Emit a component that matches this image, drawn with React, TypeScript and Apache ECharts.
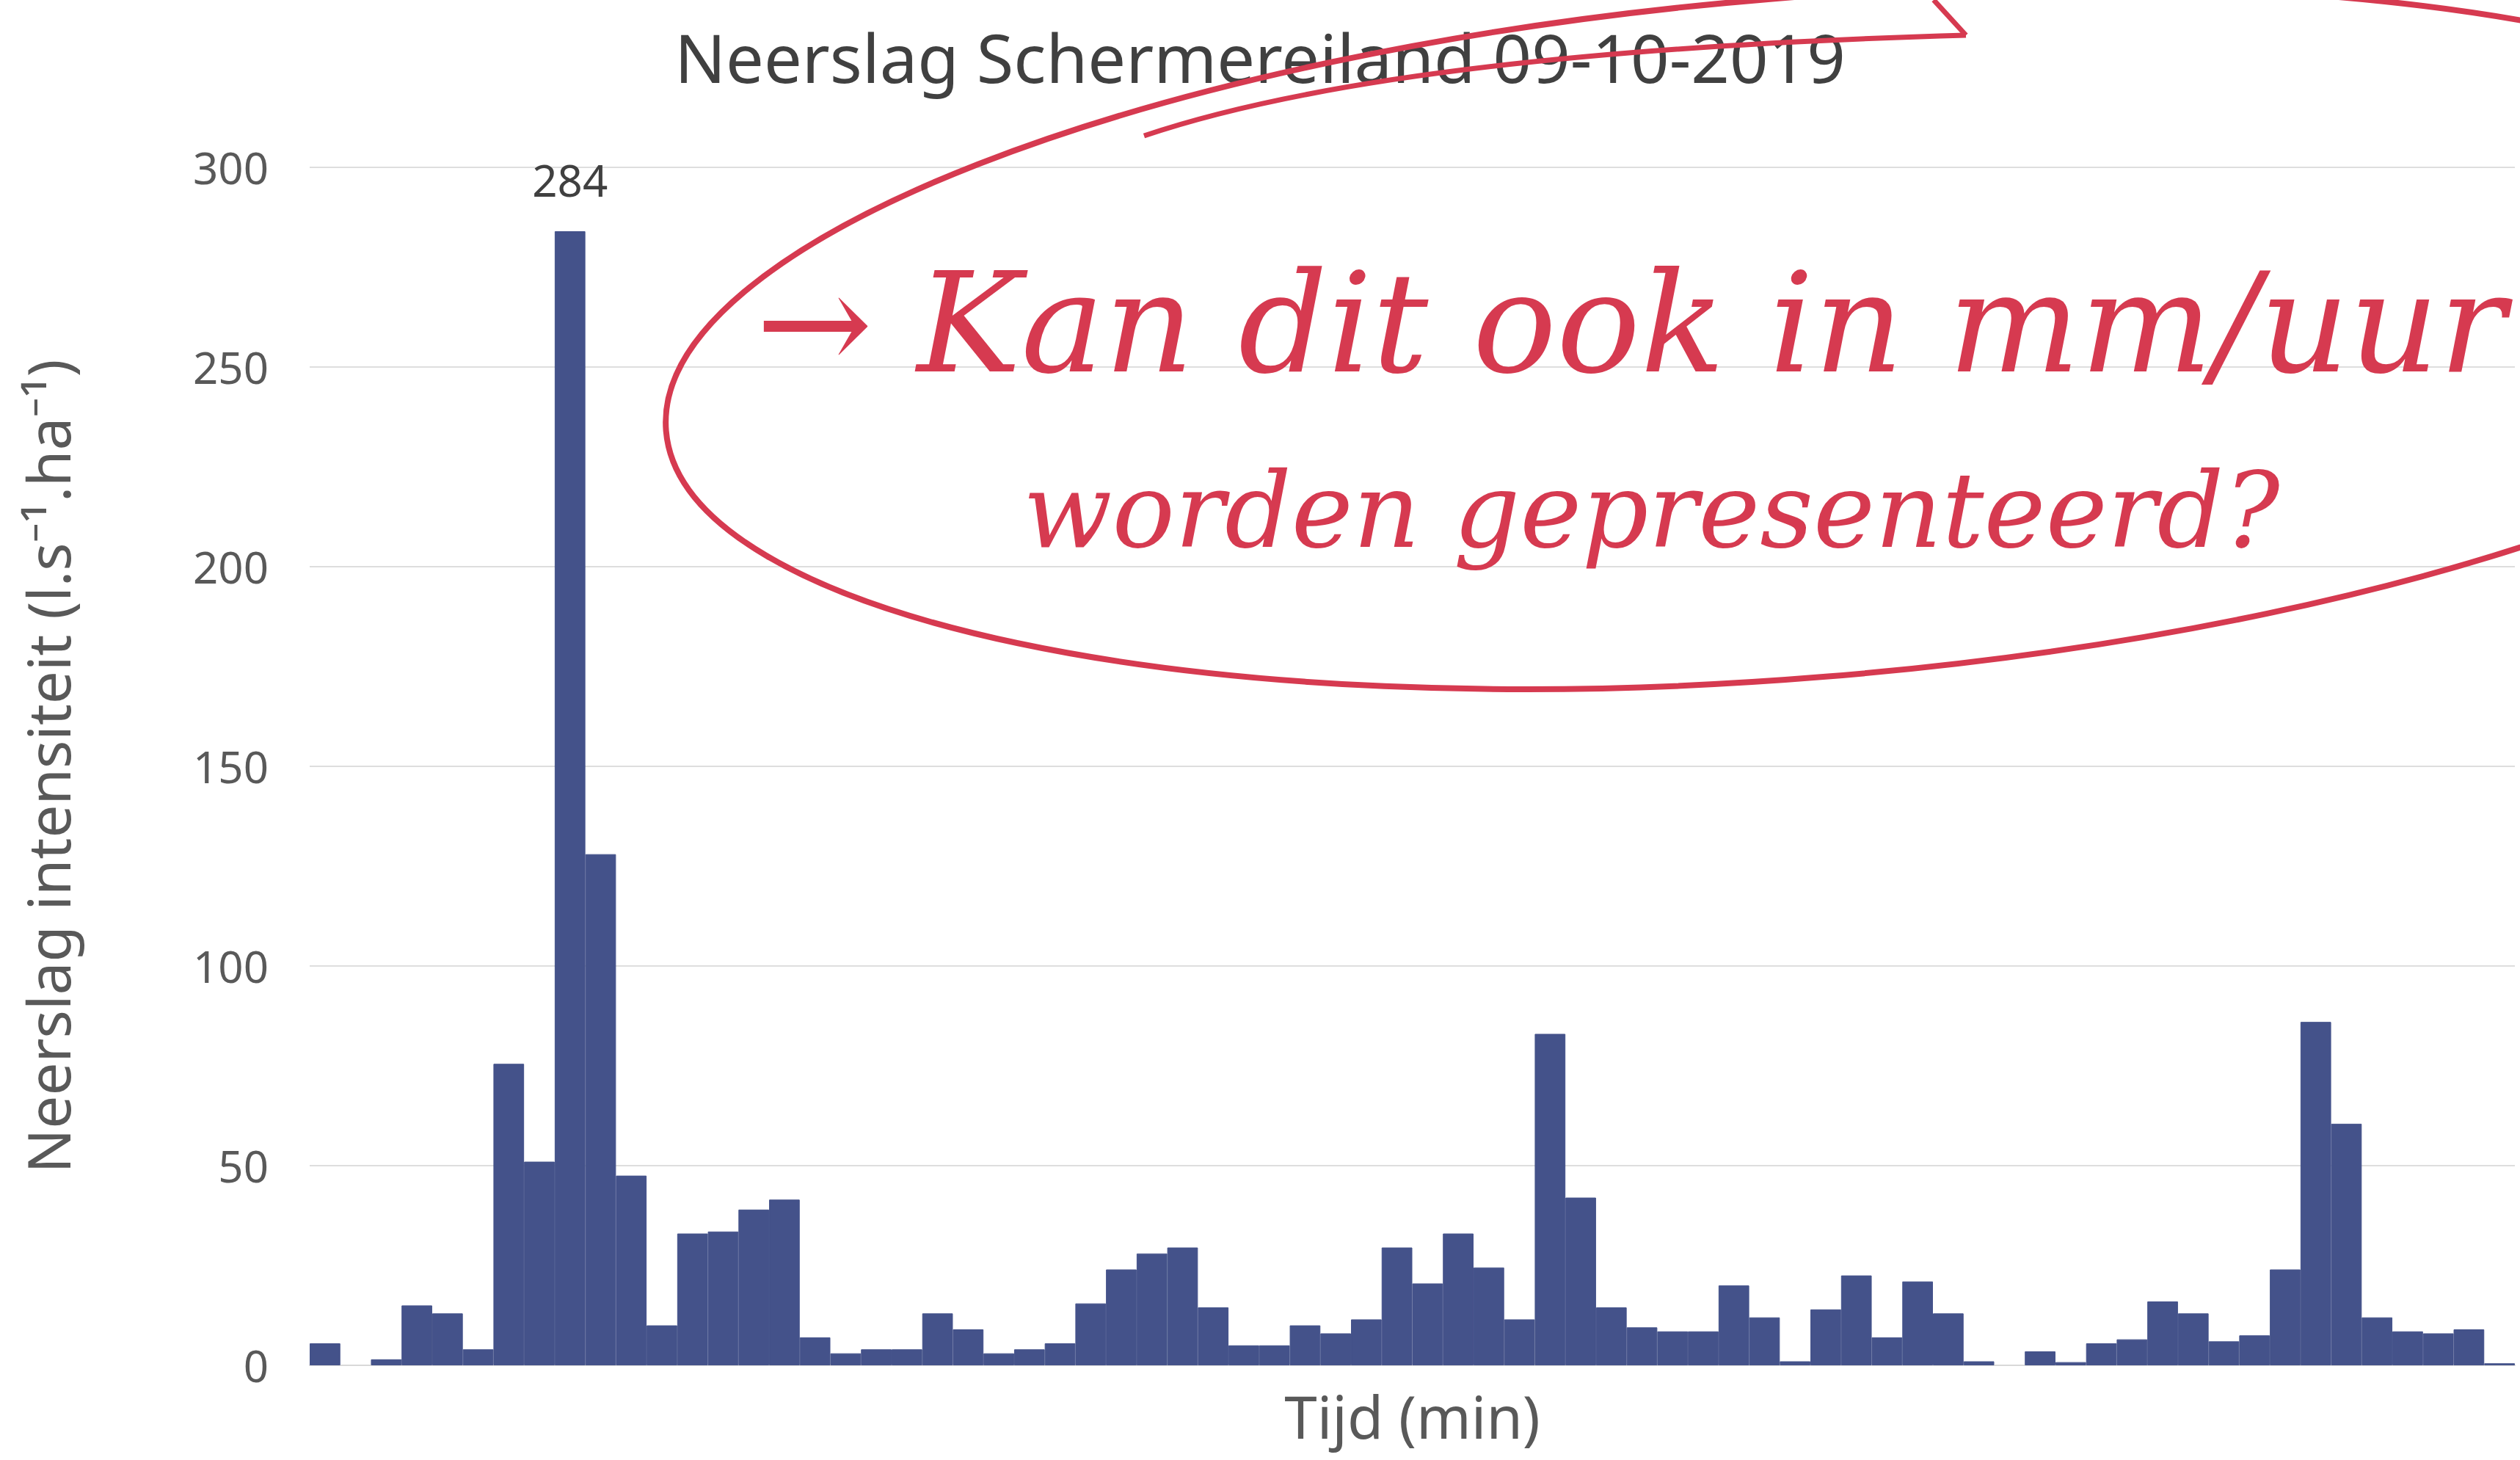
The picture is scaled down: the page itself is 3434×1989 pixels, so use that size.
import React, { useEffect, useRef } from "react";
import * as echarts from "echarts";

const TITLE = "Neerslag Schermereiland 09-10-2019";
const Y_NAME = "Neerslag intensiteit (l.s⁻¹.ha⁻¹)";
const X_NAME = "Tijd (min)";
const Y_TICKS = [0, 50, 100, 150, 200, 250, 300];

// intensity per time step (l/s/ha)
const intensity = [
  5.5, 0, 1.5, 15, 13, 4, 75.5, 51, 284, 128,
  47.5, 10, 33, 33.5, 39, 41.5, 7, 3, 4, 4,
  13, 9, 3, 4, 5.5, 15.5, 24, 28, 29.5, 14.5,
  5, 5, 10, 8, 11.5, 29.5, 20.5, 33, 24.5, 11.5,
  83, 42, 14.5, 9.5, 8.5, 8.5, 20, 12, 1, 14,
  22.5, 7, 21, 13, 1, 0, 3.5, 0.8, 5.5, 6.5,
  16, 13, 6, 7.5, 24, 86, 60.5, 12, 8.5, 8,
  9, 0.5,
];
const categories = intensity.map((_, i) => String(i + 1));

const NOTE_LINE_1 = "→ Kan dit ook in mm/uur";
const NOTE_LINE_2 = "worden gepresenteerd?";

const RED = "#d63a50";
const BAR = "#44528a";

export default function App() {
  const ref = useRef<HTMLDivElement>(null);
  useEffect(() => {
    if (!ref.current) return;
    const chart = echarts.init(ref.current, null, { renderer: "svg" });
    const maxVal = Math.max(...intensity);
    chart.setOption({
      animation: false,
      backgroundColor: "#ffffff",
      title: {
        text: TITLE,
        left: "center",
        top: 26,
        textStyle: {
          fontFamily: "Noto Sans",
          fontSize: 92,
          fontWeight: "normal",
          color: "#404040",
        },
      },
      grid: { left: 422, right: 7, top: 228, bottom: 129, containLabel: false },
      xAxis: {
        type: "category",
        data: categories,
        name: X_NAME,
        nameLocation: "middle",
        nameGap: 28,
        nameTextStyle: { fontFamily: "Noto Sans", fontSize: 80, color: "#595959" },
        axisLine: { show: true, lineStyle: { color: "#d9d9d9", width: 2 } },
        axisTick: { show: false },
        axisLabel: { show: false },
      },
      yAxis: {
        type: "value",
        min: 0,
        max: Y_TICKS[Y_TICKS.length - 1],
        interval: 50,
        name: Y_NAME,
        nameLocation: "middle",
        nameGap: 318,
        nameTextStyle: { fontFamily: "Noto Sans", fontSize: 80, color: "#595959" },
        axisLine: { show: false },
        axisTick: { show: false },
        axisLabel: {
          margin: 56,
          fontFamily: "Noto Sans",
          fontSize: 60,
          color: "#595959",
        },
        splitLine: { lineStyle: { color: "#dedede", width: 2 } },
      },
      series: [
        {
          type: "bar",
          data: intensity.map((v) => {
            if (v === maxVal) {
              return {
                value: v,
                label: {
                  show: true,
                  position: "top",
                  distance: 40,
                  fontFamily: "Noto Sans",
                  fontSize: 60,
                  color: "#404040",
                },
              };
            }
            if (v === 0) {
              return { value: v, itemStyle: { borderWidth: 0 } };
            }
            return v;
          }),
          barCategoryGap: "0%",
          itemStyle: { color: BAR, borderColor: BAR, borderWidth: 1 },
        },
      ],
      graphic: [
        {
          type: "ellipse",
          x: 2453,
          y: 460,
          rotation: 0.082,
          shape: { cx: 0, cy: 0, rx: 1550, ry: 463 },
          style: { fill: "none", stroke: RED, lineWidth: 8 },
          z: 100,
        },
        {
          type: "bezierCurve",
          shape: { x1: 1559, y1: 185, cpx1: 1900, cpy1: 70, x2: 2679, y2: 48 },
          style: { fill: "none", stroke: RED, lineWidth: 7 },
          z: 100,
        },
        {
          type: "line",
          shape: { x1: 2679, y1: 48, x2: 2635, y2: 0 },
          style: { stroke: RED, lineWidth: 7 },
          z: 100,
        },
        {
          type: "text",
          x: 1030,
          y: 440,
          style: {
            text: NOTE_LINE_1,
            fill: RED,
            fontFamily: "DejaVu Serif",
            fontStyle: "italic",
            fontSize: 190,
            textAlign: "left",
            textVerticalAlign: "middle",
          },
          z: 100,
        },
        {
          type: "text",
          x: 1394,
          y: 695,
          style: {
            text: NOTE_LINE_2,
            fill: RED,
            fontFamily: "DejaVu Serif",
            fontStyle: "italic",
            fontSize: 142,
            textAlign: "left",
            textVerticalAlign: "middle",
          },
          z: 100,
        },
      ],
    });
    return () => chart.dispose();
  }, []);
  return (
    <div
      ref={ref}
      style={{ position: "absolute", left: 0, top: 0, width: 3434, height: 1989, background: "#fff" }}
    />
  );
}
